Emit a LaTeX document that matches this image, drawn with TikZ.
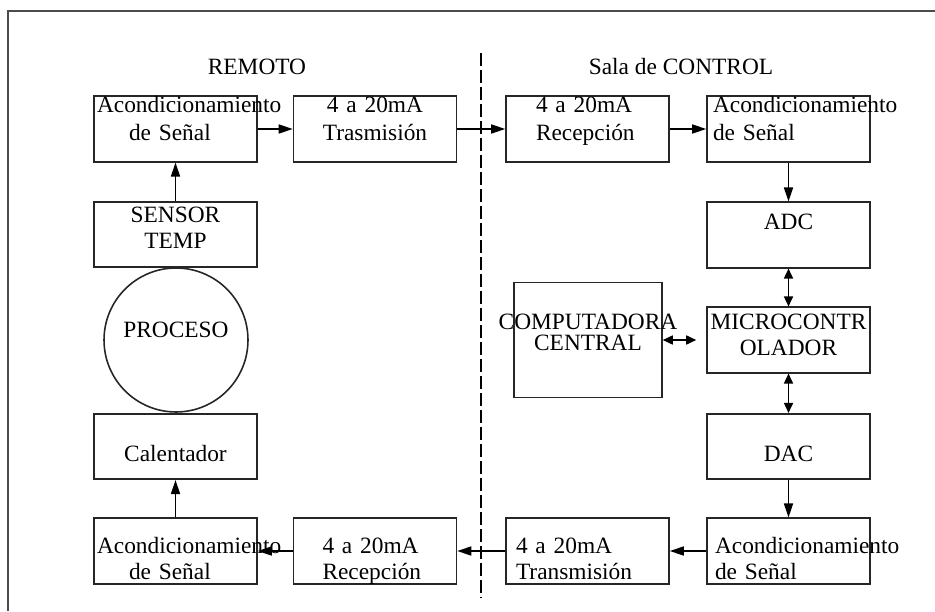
\documentclass[tikz,border=0pt]{standalone}
\usepackage{fontspec}
\setmainfont{Liberation Serif}
\usetikzlibrary{arrows.meta}

\begin{document}
\begin{tikzpicture}[x=0.02cm, y=-0.02cm, >={Triangle[length=0.28cm,width=0.18cm]},
  font=\fontsize{13.3}{14.8}\selectfont,
  blk/.style={draw=black!85, line width=0.9pt, inner sep=0pt, minimum width=3.26cm,
    minimum height=1.31cm, text width=3.26cm, align=left},
  txtop/.style={text height=#1, text depth={1.31cm-#1}},
  link/.style={->, line width=0.9pt},
  dlink/.style={<->, line width=0.9pt, >={Triangle[length=0.2cm,width=0.18cm]}}]
  \useasboundingbox (0,0) rectangle (935,611);

  % Frame
  \draw[line width=1.4pt, black!70] (935,11) -- (8,11) -- (8,611);

  % Titles and divider
  \node (remoto) at (257,67) {REMOTO};
  \node (sala) at (681,67) {Sala de CONTROL};
  \draw[line width=0.8pt, dash pattern=on 0.26cm off 0.08cm] (481,53) -- (481,597);

  % Remote side
  \node[blk, txtop=0.33cm] (acondA) at (175.5,129) {\hspace*{0.06cm}\mbox{Acondicionamiento}\\[0.04cm]\hspace*{0.7cm}de Señal};
  \node[blk, txtop=0.33cm, align=center] (trasA) at (375,129) {4 a 20mA\\[0.04cm]Trasmisión};
  \node[blk, txtop=0.42cm, align=center] (sensor) at (175.5,234.5) {SENSOR\\TEMP};
  \node[draw=black!85, line width=0.9pt, circle, minimum size=2.88cm, inner sep=0pt,
    text height=0.32cm, text depth=0.42cm] (proceso) at (176,340) {PROCESO};
  \node[blk, txtop=0.95cm, align=center] (calent) at (175.5,446.5) {Calentador};
  \node[blk, txtop=0.70cm] (acondC) at (175.5,551) {\hspace*{0.06cm}\mbox{Acondicionamiento}\\\hspace*{0.7cm}de Señal};
  \node[blk, txtop=0.70cm] (recB) at (375,551) {\hspace*{0.58cm}4 a 20mA\\\hspace*{0.58cm}Recepción};

  % Control room side
  \node[blk, txtop=0.33cm] (recA) at (587.5,129) {\hspace*{0.6cm}4 a 20mA\\[0.04cm]\hspace*{0.6cm}Recepción};
  \node[blk, txtop=0.33cm] (acondB) at (788.5,129) {\hspace*{0.12cm}\mbox{Acondicionamiento}\\[0.04cm]\hspace*{0.12cm}de Señal};
  \node[blk, txtop=0.55cm, align=center] (adc) at (788.5,235) {ADC};
  \node[blk, txtop=0.44cm, align=center] (micro) at (788.5,340) {MICROCONTR\\OLADOR};
  \node[blk, minimum width=2.96cm, minimum height=2.30cm, text width=2.96cm,
    text height=0.93cm, text depth=1.37cm, align=center] (comp) at (588,340)
    {\makebox[0pt]{COMPUTADORA}\\[-0.1cm]\makebox[0pt]{CENTRAL}};
  \node[blk, txtop=0.95cm, align=center] (dac) at (788.5,446.5) {DAC};
  \node[blk, txtop=0.70cm] (acondD) at (788.5,551) {\hspace*{0.16cm}\mbox{Acondicionamiento}\\\hspace*{0.16cm}de Señal};
  \node[blk, txtop=0.70cm] (trasB) at (587.5,551) {\hspace*{0.2cm}4 a 20mA\\\hspace*{0.2cm}Transmisión};

  % Signal path
  \draw[link] (sensor) -- (acondA);
  \draw[link] (acondA) -- (trasA);
  \draw[link] (trasA) -- (recA);
  \draw[link] (recA) -- (acondB);
  \draw[link] (acondB) -- (adc);
  \draw[dlink] (adc) -- (micro);
  \draw[dlink] (micro) -- (dac);
  \draw[dlink, shorten >=0.2cm] (comp) -- (micro);
  \draw[link] (dac) -- (acondD);
  \draw[link] (acondD) -- (trasB);
  \draw[link] (trasB) -- (recB);
  \draw[link] (recB) -- (acondC);
  \draw[link] (acondC) -- (calent);
\end{tikzpicture}
\end{document}
